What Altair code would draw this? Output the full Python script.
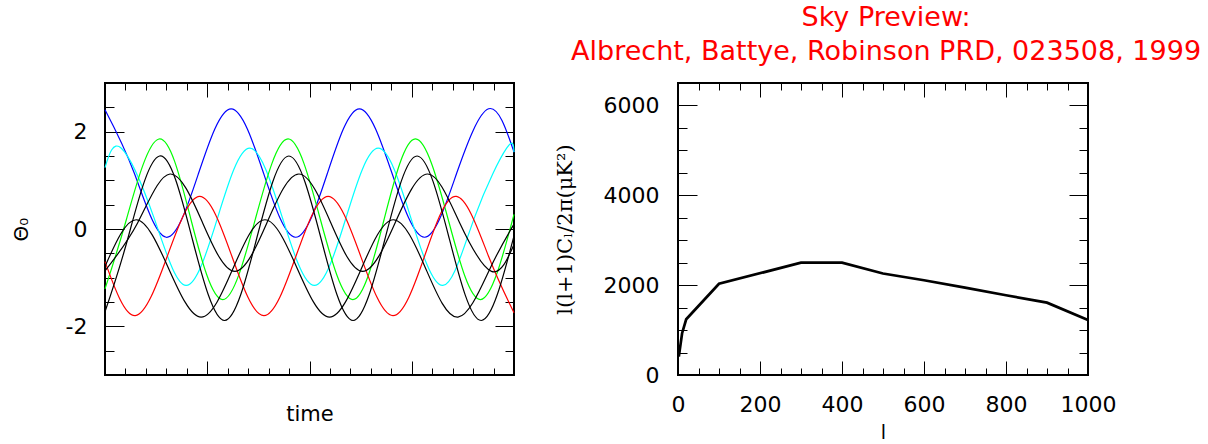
import altair as alt
import pandas as pd

# ---------------- Left panel: Theta_0 versus time ----------------
# knots (ends, maxima, minima and mid-level crossings)
blue_t = [0.0, 1.43, 2.99, 4.58, 6.17, 7.75, 9.32, 10.88, 12.44, 14.03, 15.63, 17.20, 18.76, 20.0]
blue_v = [2.45, 1.15, -0.17, 1.15, 2.47, 1.15, -0.17, 1.15, 2.47, 1.15, -0.17, 1.15, 2.47, 1.58]

cyan_t = [0.0, 0.80, 2.38, 3.96, 5.52, 7.08, 8.66, 10.24, 11.80, 13.36, 14.94, 16.52, 18.08, 19.64, 20.0]
cyan_v = [1.26, 1.66, 0.25, -1.16, 0.25, 1.66, 0.25, -1.16, 0.25, 1.66, 0.25, -1.16, 0.25, 1.66, 1.58]

green_t = [0.0, 1.05, 2.64, 4.20, 5.76, 7.35, 8.95, 10.53, 12.12, 13.65, 15.18, 16.78, 18.37, 20.0]
green_v = [-1.23, 0.20, 1.85, 0.20, -1.45, 0.20, 1.85, 0.20, -1.45, 0.20, 1.85, 0.20, -1.45, 0.30]

red_t = [0.0, 1.48, 3.05, 4.63, 6.20, 7.77, 9.34, 10.91, 12.50, 14.08, 15.63, 17.18, 18.75, 20.0]
red_v = [-0.67, -1.78, -0.555, 0.67, -0.555, -1.78, -0.555, 0.67, -0.555, -1.78, -0.555, 0.67, -0.555, -1.72]

blackA_t = [0.0, 1.12, 2.67, 4.26, 5.85, 7.42, 8.99, 10.56, 12.13, 13.70, 15.26, 16.83, 18.40, 20.0]
blackA_v = [-1.70, -0.19, 1.50, -0.19, -1.88, -0.19, 1.50, -0.19, -1.88, -0.19, 1.50, -0.19, -1.88, -0.14]

blackB_t = [0.0, 1.60, 3.18, 4.77, 6.35, 7.92, 9.48, 11.04, 12.60, 14.19, 15.78, 17.34, 18.90, 20.0]
blackB_v = [-0.86, 0.13, 1.13, 0.13, -0.87, 0.13, 1.13, 0.13, -0.87, 0.13, 1.13, 0.13, -0.87, -0.32]

blackC_t = [0.0, 1.53, 3.11, 4.70, 6.26, 7.82, 9.40, 10.98, 12.54, 14.10, 15.68, 17.26, 18.83, 20.0]
blackC_v = [-0.77, 0.19, -0.81, -1.81, -0.81, 0.19, -0.81, -1.81, -0.81, 0.19, -0.81, -1.81, -0.81, 0.10]

series_names = ["blue", "cyan", "green", "red", "blackA", "blackB", "blackC"]
series_colors = ["#0000ff", "#00ffff", "#00ff00", "#ff0000", "#000000", "#000000", "#000000"]
series_t = [blue_t, cyan_t, green_t, red_t, blackA_t, blackB_t, blackC_t]
series_v = [blue_v, cyan_v, green_v, red_v, blackA_v, blackB_v, blackC_v]

# ---------------- Right panel: power spectrum ----------------
ell = [2, 10, 20, 100, 300, 400, 500, 600, 700, 800, 900, 1000]
cl = [410, 930, 1240, 2030, 2500, 2500, 2260, 2110, 1945, 1775, 1610, 1225]

# tick values
left_x_major = [0, 5, 10, 15, 20]
left_x_minor = list(range(0, 21))
left_y_major = [-2, 0, 2]
left_y_minor = [-3, -2.5, -2, -1.5, -1, -0.5, 0, 0.5, 1, 1.5, 2, 2.5, 3]
left_y_labels = [-2, 0, 2]

right_x_major = [0, 200, 400, 600, 800, 1000]
right_x_minor = list(range(0, 1001, 50))
right_y_major = [0, 2000, 4000, 6000]
right_y_minor = list(range(0, 6501, 500))

title_lines = ["Sky Preview:", "Albrecht, Battye, Robinson PRD, 023508, 1999"]

# ---------------- build tables ----------------
rows = []
for name, ts, vs in zip(series_names, series_t, series_v):
    for t, v in zip(ts, vs):
        rows.append({"t": t, "v": v, "series": name})
left_df = pd.DataFrame(rows)
right_df = pd.DataFrame({"l": ell, "cl": cl})

W1, H1 = 409, 292
W2, H2 = 410, 292
LABEL_FONT = "DejaVu Sans"
LABEL_SIZE = 22

left_xs = alt.Scale(domain=[0, 20], nice=False, zero=False)
left_ys = alt.Scale(domain=[-3, 3], nice=False, zero=False)
right_xs = alt.Scale(domain=[0, 1000], nice=False, zero=False)
right_ys = alt.Scale(domain=[0, 6500], nice=False, zero=False)


def tick_axis(orient, offset, values, size):
    return alt.Axis(orient=orient, offset=offset, values=values, tickSize=size,
                    tickColor="black", tickWidth=1, labels=False, domain=False,
                    grid=False, title=None)


def tick_layers(df, xf, yf, xsc, ysc, W, H, xmaj, xmin, ymaj, ymin,
                xlong, xshort, ylong, yshort):
    out = []
    for xv, xs, yv, ys in [(xmaj, xlong, ymaj, ylong), (xmin, xshort, ymin, yshort)]:
        # ticks hanging from top frame, and from left frame
        out.append(alt.Chart(df).mark_point(opacity=0).encode(
            x=alt.X(xf, scale=xsc, axis=tick_axis("bottom", -H, xv, xs)),
            y=alt.Y(yf, scale=ysc, axis=tick_axis("right", -W, yv, ys)),
        ))
        # ticks standing on bottom frame, and from right frame
        out.append(alt.Chart(df).mark_point(opacity=0).encode(
            x=alt.X(xf, scale=xsc, axis=tick_axis("top", -H, xv, xs)),
            y=alt.Y(yf, scale=ysc, axis=tick_axis("left", -W, yv, ys)),
        ))
    return out


# ---------- left panel ----------
left_frame_df = pd.DataFrame({"t": [0, 20], "v": [-3, 3]})
left_lines = alt.Chart(left_df).mark_line(strokeWidth=1.2, interpolate="natural").encode(
    x=alt.X("t:Q", scale=left_xs, axis=None),
    y=alt.Y("v:Q", scale=left_ys, axis=None),
    color=alt.Color("series:N", scale=alt.Scale(domain=series_names, range=series_colors),
                    legend=None),
)
left_labels = alt.Chart(left_frame_df).mark_point(opacity=0).encode(
    x=alt.X("t:Q", scale=left_xs, axis=alt.Axis(orient="bottom", labels=False, ticks=False,
                                               domain=False, grid=False, title="time",
                                               titleFont=LABEL_FONT, titleFontSize=21,
                                               titleColor="black",
                                               titleFontWeight="normal", titlePadding=28)),
    y=alt.Y("v:Q", scale=left_ys, axis=alt.Axis(orient="left", values=left_y_labels,
                                               ticks=False, tickSize=0, domain=False, grid=False,
                                               labelPadding=18, labelFont=LABEL_FONT,
                                               labelFontSize=LABEL_SIZE, labelColor="black",
                                               labelExpr="datum.value < 0 ? '-' + abs(datum.value) : '' + datum.value",
                                               title="Θ₀", titleFont=LABEL_FONT, titleFontSize=20,
                                               titleAngle=270, titleColor="black",
                                               titleFontWeight="normal", titlePadding=34)),
)
left_panel = alt.layer(
    left_lines, left_labels,
    *tick_layers(left_frame_df, "t:Q", "v:Q", left_xs, left_ys, W1, H1,
                 left_x_major, left_x_minor, left_y_major, left_y_minor, 14, 7, 19, 9)
).resolve_axis(x="independent", y="independent").properties(width=W1, height=H1)

# ---------- right panel ----------
right_frame_df = pd.DataFrame({"l": [0, 1000], "cl": [0, 6500]})
right_line = alt.Chart(right_df).mark_line(strokeWidth=2.7, color="black").encode(
    x=alt.X("l:Q", scale=right_xs, axis=None),
    y=alt.Y("cl:Q", scale=right_ys, axis=None),
)
right_labels = alt.Chart(right_frame_df).mark_point(opacity=0).encode(
    x=alt.X("l:Q", scale=right_xs, axis=alt.Axis(orient="bottom", values=right_x_major,
                                                ticks=False, tickSize=0, domain=False, grid=False,
                                                labelPadding=19, format="d", labelFlush=False,
                                                labelOverlap=False,
                                                labelFont=LABEL_FONT, labelFontSize=LABEL_SIZE,
                                                labelColor="black",
                                                title="l", titleFont=LABEL_FONT,
                                                titleFontSize=19, titleColor="black",
                                                titleFontWeight="normal", titlePadding=8)),
    y=alt.Y("cl:Q", scale=right_ys, axis=alt.Axis(orient="left", values=right_y_major,
                                                 ticks=False, tickSize=0, domain=False, grid=False,
                                                 labelPadding=19, format="d", labelFlush=False,
                                                 labelFont=LABEL_FONT, labelFontSize=LABEL_SIZE,
                                                 labelColor="black",
                                                 title="l(l+1)Cₗ/2π(μK²)", titleFont="DejaVu Serif",
                                                 titleFontSize=21, titleFontWeight="normal",
                                                 titleColor="black", titlePadding=28)),
)
right_panel = alt.layer(
    right_line, right_labels,
    *tick_layers(right_frame_df, "l:Q", "cl:Q", right_xs, right_ys, W2, H2,
                 right_x_major, right_x_minor, right_y_major, right_y_minor, 14, 7, 19, 9)
).resolve_axis(x="independent", y="independent").properties(width=W2, height=H2)

chart = alt.hconcat(left_panel, right_panel, spacing=35).properties(
    title=alt.TitleParams(text=title_lines, color="#ff0000", font="DejaVu Sans",
                          fontSize=27, fontWeight="normal", lineHeight=34,
                          anchor="start", frame="bounds", align="center", dx=876,
                          offset=13),
    padding={"left": 10, "top": 4, "right": 5, "bottom": 2},
    background="white",
).configure_view(stroke="black", strokeWidth=2).configure_axis(
    labelFont=LABEL_FONT, labelFontSize=LABEL_SIZE, labelColor="black",
    titleColor="black", tickColor="black", tickWidth=1, grid=False,
)

chart.save("out.html", embed_options={"renderer": "svg", "actions": False})
